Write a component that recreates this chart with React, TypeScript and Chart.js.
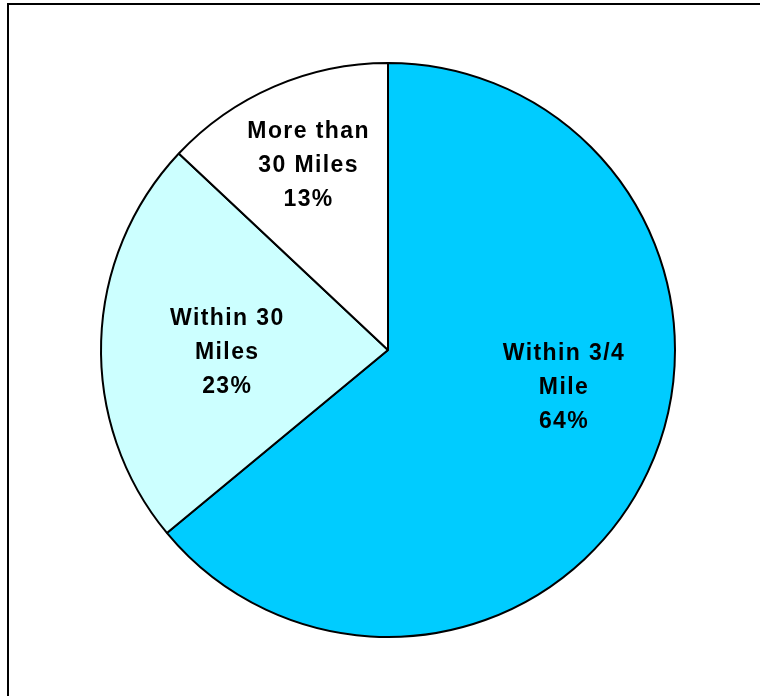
import React, { useEffect, useRef } from "react";
import { Chart, registerables } from "chart.js";

Chart.register(...registerables);

const categories = ["Within 3/4 Mile", "Within 30 Miles", "More than 30 Miles"];
const labelLines = [["Within 3/4", "Mile"], ["Within 30", "Miles"], ["More than", "30 Miles"]];
const values = [64, 23, 13];
const colors = ["#00CCFF", "#CCFFFF", "#FFFFFF"];
// label placement within each slice: fraction along the slice's angle, fraction of radius
const labelAngleFrac = [0.439, 0.478, 0.51];
const labelRadiusFrac = [0.625, 0.56, 0.71];

const labelPlugin = {
  id: "sliceLabels",
  afterDatasetsDraw(chart: any) {
    const ctx = chart.ctx;
    const meta = chart.getDatasetMeta(0);
    const total = values.reduce((a, b) => a + b, 0);
    ctx.save();
    ctx.fillStyle = "#000";
    ctx.font = "bold 23px 'Liberation Sans', Arial, sans-serif";
    try { (ctx as any).letterSpacing = "1.4px"; } catch (e) {}
    ctx.textAlign = "center";
    ctx.textBaseline = "middle";
    const lh = 34;
    meta.data.forEach((arc: any, i: number) => {
      const { x, y, startAngle, endAngle, outerRadius } = arc.getProps(
        ["x", "y", "startAngle", "endAngle", "outerRadius"], true);
      const a = startAngle + labelAngleFrac[i] * (endAngle - startAngle);
      const r = outerRadius * labelRadiusFrac[i];
      const cx = x + Math.cos(a) * r;
      const cy = y + Math.sin(a) * r + 3;
      const lines = [...labelLines[i], Math.round((values[i] / total) * 100) + "%"];
      const top = cy - ((lines.length - 1) * lh) / 2;
      lines.forEach((t, k) => ctx.fillText(t, cx, top + k * lh));
    });
    ctx.restore();
  },
};

export default function App() {
  const ref = useRef<HTMLCanvasElement>(null);
  useEffect(() => {
    document.body.style.margin = "0";
    const chart = new Chart(ref.current!, {
      type: "pie",
      data: {
        labels: categories,
        datasets: [{
          data: values,
          backgroundColor: colors,
          borderColor: "#000",
          borderWidth: 2,
        }],
      },
      options: {
        animation: false,
        responsive: false,
        radius: 287,
        layout: { padding: { left: 101, right: 85, top: 63, bottom: 59 } },
        plugins: { legend: { display: false }, tooltip: { enabled: false } },
      } as any,
      plugins: [labelPlugin],
    });
    return () => chart.destroy();
  }, []);
  return (
    <div style={{ position: "relative", width: 760, height: 696, overflow: "hidden", background: "#fff" }}>
      <div style={{ position: "absolute", left: 7, top: 3, width: 800, height: 800, border: "2px solid #000", boxSizing: "border-box" }} />
      <canvas ref={ref} width={760} height={696} style={{ position: "absolute", left: 0, top: 0 }} />
    </div>
  );
}
